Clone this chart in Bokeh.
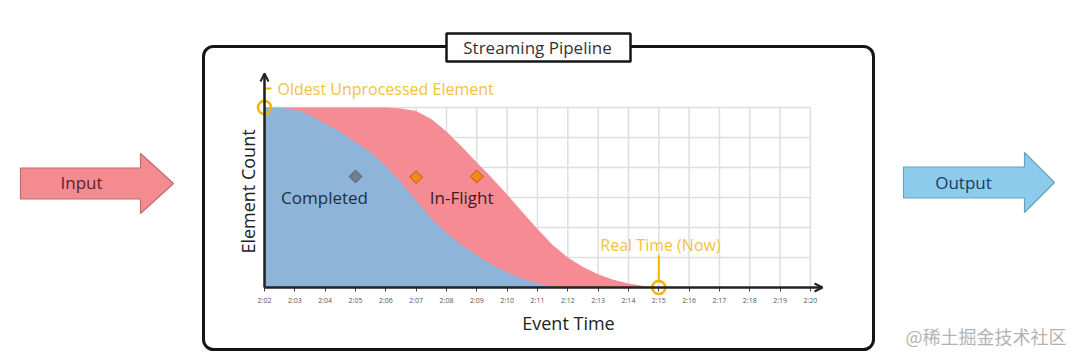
from bokeh.plotting import figure
from bokeh.models import FixedTicker, Arrow, OpenHead
from bokeh.core.properties import value
from bokeh.embed import file_html
from bokeh.resources import INLINE

# ---------------- data ----------------
minutes = [0, 0.5, 1, 1.5, 2, 2.5, 3, 3.5, 4, 4.5, 5, 5.5, 6, 6.5, 7, 7.5,
           8, 8.5, 9, 9.5, 10, 10.5, 11, 11.5, 12, 12.5, 13]
in_flight_top = [6.0, 6.0, 6.0, 6.0, 6.0, 6.0, 6.0, 6.0, 6.0, 5.97, 5.88, 5.62,
                 5.2, 4.7, 4.17, 3.65, 3.1, 2.52, 1.95, 1.42, 1.0, 0.68, 0.44,
                 0.26, 0.13, 0.05, 0.0]
completed = [6.0, 5.99, 5.93, 5.75, 5.47, 5.18, 4.85, 4.5, 4.05, 3.5, 2.9, 2.3,
             1.82, 1.42, 1.07, 0.76, 0.5, 0.3, 0.13, 0.03, 0.0, 0.0, 0.0, 0.0,
             0.0, 0.0, 0.0]
tick_minutes = list(range(19))
tick_labels = ["2:02", "2:03", "2:04", "2:05", "2:06", "2:07", "2:08", "2:09",
               "2:10", "2:11", "2:12", "2:13", "2:14", "2:15", "2:16", "2:17",
               "2:18", "2:19", "2:20"]
grid_counts = [1, 2, 3, 4, 5, 6]
count_max = 6
completed_marker_x = [3.0]
completed_marker_y = [3.7]
inflight_marker_x = [5.0, 7.0]
inflight_marker_y = [3.68, 3.7]
oldest_x, oldest_y = [0], [6]
now_x, now_y = [13], [0]
region_labels = ["Completed", "In-Flight"]
region_label_x = [1.98, 6.5]
region_label_y = [3.0, 3.0]

# ---------------- layout helpers (page pixels -> chart units) ----------------
W, H = 1072, 351
PX0, PY0 = 264.0, 287.0
SX, SY = 30.33, 30.0


def X(px):
    return (px - PX0) / SX


def Y(py):
    return (PY0 - py) / SY


p = figure(width=W, height=H, x_range=(X(0), X(W)), y_range=(Y(H), Y(0)),
           output_backend="svg", toolbar_location=None, min_border=0,
           outline_line_color=None, background_fill_color="white",
           border_fill_color="white")
p.xgrid.visible = False
p.ygrid.visible = False
p.yaxis.visible = False

FONT = value("Open Sans")

# outer pipeline box
p.quad(left=[X(203)], right=[X(873)], top=[Y(46)], bottom=[Y(349)],
       fill_color="white", line_color="#151515", line_width=3, border_radius=10)

# arrows
def arrow_poly(x0, x1, xt, yc, body_h, head_h):
    xs = [X(x0), X(x1), X(x1), X(xt), X(x1), X(x1), X(x0)]
    ys = [Y(yc - body_h / 2), Y(yc - body_h / 2), Y(yc - head_h / 2), Y(yc),
          Y(yc + head_h / 2), Y(yc + body_h / 2), Y(yc + body_h / 2)]
    return xs, ys

ix, iy = arrow_poly(20, 140, 173, 183, 31, 60)
ox, oy = arrow_poly(903, 1024, 1054, 182, 31, 60)
p.patch(ix, iy, fill_color="#f48b90", line_color="#c06a72", line_width=1.2)
p.patch(ox, oy, fill_color="#8dcbec", line_color="#6a9fbf", line_width=1.2)
p.text(x=[X(81)], y=[Y(182)], text=["Input"], text_font=FONT, text_font_size="17px",
       text_color="#5a2430", text_align="center", text_baseline="middle")
p.text(x=[X(963)], y=[Y(182)], text=["Output"], text_font=FONT, text_font_size="17px",
       text_color="#1d3b5a", text_align="center", text_baseline="middle")

# title box
p.quad(left=[X(446)], right=[X(630)], top=[Y(33)], bottom=[Y(61)],
       fill_color="white", line_color="#151515", line_width=2.5)
p.text(x=[X(537)], y=[Y(47)], text=["Streaming Pipeline"], text_font=FONT,
       text_font_size="17px", text_color="#333333", text_align="center",
       text_baseline="middle")

# chart grid
p.segment(x0=tick_minutes[1:], y0=[0] * 18, x1=tick_minutes[1:], y1=[count_max] * 18,
          line_color="#dedede", line_width=1.5)
p.segment(x0=[0] * len(grid_counts), y0=grid_counts, x1=[tick_minutes[-1]] * len(grid_counts),
          y1=grid_counts, line_color="#dedede", line_width=1.5)

# areas
p.varea(x=minutes, y1=[0] * len(minutes), y2=in_flight_top, fill_color="#f58c94")
p.varea(x=minutes, y1=[0] * len(minutes), y2=completed, fill_color="#8eb5d9")

# axis arrows
p.add_layout(Arrow(end=OpenHead(size=8, line_width=2, line_color="#222222"),
                   x_start=0, y_start=0, x_end=0, y_end=Y(73),
                   line_width=2.5, line_color="#222222"))
p.add_layout(Arrow(end=OpenHead(size=8, line_width=2, line_color="#222222"),
                   x_start=0, y_start=0, x_end=X(822), y_end=0,
                   line_width=2.5, line_color="#222222"))

ax = p.xaxis[0]
ax.fixed_location = 0
ax.bounds = (0, 18)
ax.ticker = FixedTicker(ticks=tick_minutes, minor_ticks=[])
ax.major_label_overrides = {m: l for m, l in zip(tick_minutes, tick_labels)}
ax.axis_line_color = None
ax.major_tick_in = 0
ax.major_tick_out = 4
ax.minor_tick_out = 0
ax.minor_tick_in = 0
ax.major_tick_line_color = "#444444"
ax.major_label_text_font_size = "7px"
ax.major_label_text_font = "Open Sans"
ax.major_label_text_color = "#555555"
ax.major_label_standoff = 4

# markers
p.scatter(x=completed_marker_x, y=completed_marker_y, marker="square", angle=0.785398,
          size=9, fill_color="#6f7f90", line_color="#4b5866", line_width=1)
p.scatter(x=inflight_marker_x, y=inflight_marker_y, marker="square", angle=0.785398,
          size=9, fill_color="#f08a1a", line_color="#b65a00", line_width=1)
p.text(x=region_label_x, y=region_label_y, text=region_labels, text_font=FONT,
       text_font_size="17px", text_color=["#1c2e45", "#3d1c24"], text_align="center",
       text_baseline="middle")

# highlight rings and annotations
GOLD = "#f2b400"
LIGHT_GOLD = "#f3c240"
p.segment(x0=[oldest_x[0]], y0=[oldest_y[0] + 0.17], x1=[oldest_x[0]], y1=[Y(85)],
          line_color=GOLD, line_width=2)
p.segment(x0=[X(265)], y0=[Y(88)], x1=[X(271)], y1=[Y(88)], line_color=GOLD, line_width=2)
p.segment(x0=[now_x[0]], y0=[now_y[0] + 0.17], x1=[now_x[0]], y1=[Y(255)],
          line_color=GOLD, line_width=2)
p.scatter(x=oldest_x + now_x, y=oldest_y + now_y, marker="circle", size=13,
          fill_color=None, line_color=GOLD, line_width=2.5)
p.text(x=[X(277)], y=[Y(88)], text=["Oldest Unprocessed Element"], text_font=FONT,
       text_font_size="16px", text_color=LIGHT_GOLD, text_align="left",
       text_baseline="middle")
p.text(x=[X(660)], y=[Y(244)], text=["Real Time (Now)"], text_font=FONT,
       text_font_size="16px", text_color=LIGHT_GOLD, text_align="center",
       text_baseline="middle")

# axis titles
p.text(x=[X(568)], y=[Y(322)], text=["Event Time"], text_font=FONT,
       text_font_size="18px", text_color="#222222", text_align="center",
       text_baseline="middle")
p.text(x=[X(247)], y=[Y(191)], text=["Element Count"], text_font=FONT,
       text_font_size="18px", text_color="#222222", text_align="center",
       text_baseline="middle", angle=1.5707963)

# watermark
p.text(x=[X(905)], y=[Y(335)], text=["@稀土掘金技术社区"], text_font=value("Noto Sans CJK SC"),
       text_font_size="18px", text_color="#b3b3b3", text_align="left",
       text_baseline="middle")

open("out.html", "w").write(file_html(p, INLINE))
